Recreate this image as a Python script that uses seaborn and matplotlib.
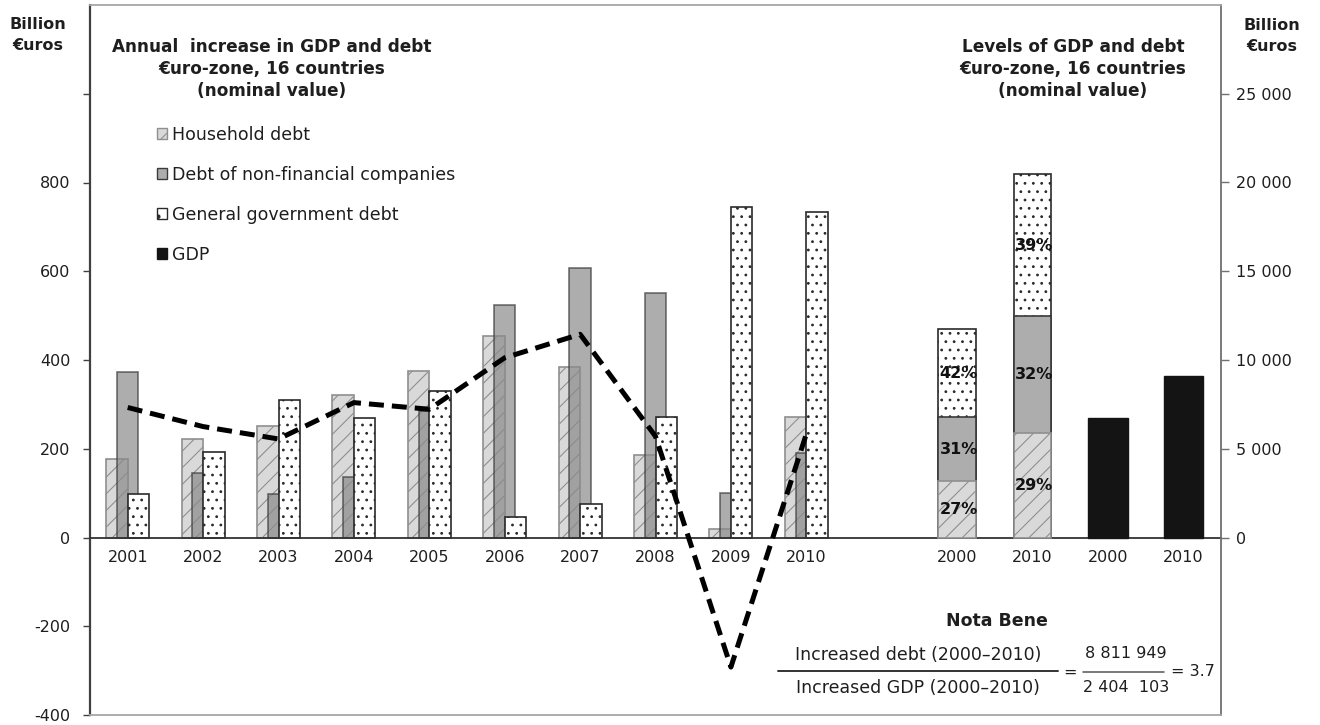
import numpy as np
import matplotlib
matplotlib.use('Agg')
import matplotlib.pyplot as plt
import seaborn as sns
from matplotlib.patches import Patch
from matplotlib.lines import Line2D

# annual increase, billion euros (left axis)
years = ['2001', '2002', '2003', '2004', '2005', '2006', '2007', '2008', '2009', '2010']
household_inc = [176, 221, 252, 321, 375, 453, 384, 187, 20, 272]
nonfin_inc = [372, 145, 97, 136, 284, 524, 608, 552, 101, 190]
gov_inc = [98, 193, 310, 270, 330, 47, 76, 272, 744, 733]
gdp_inc = [293, 250, 222, 304, 289, 405, 458, 228, -292, 233]

# levels, billion euros (right axis)
level_years = ['2000', '2010']
household_lvl = [3170, 5900]
nonfin_lvl = [3620, 6560]
gov_lvl = [4930, 8030]
gdp_lvl = [6760, 9100]

left_ticks = [-400, -200, 0, 200, 400, 600, 800, 1000]
right_ticks = [0, 5000, 10000, 15000, 20000, 25000]

sns.set_theme(style='white')
plt.rcParams['font.family'] = ['DejaVu Sans']
plt.rcParams['hatch.linewidth'] = 0.8

TXT = '#1e1e1e'
HH_FACE, HH_EDGE = '#d9d9d9', '#8f8f8f'
NF_FACE = '#8a8a8a'
GOV_EDGE = '#2a2a2a'
GDP_FACE = '#141414'

W, H = 1320, 725
fig = plt.figure(figsize=(W / 100, H / 100), dpi=100)
ax = fig.add_axes([90 / W, 10 / H, 1131 / W, 710 / H])
ax2 = ax.twinx()

inc_x = np.arange(len(years), dtype=float)
bw = 0.285
bar_kw = dict(native_scale=True, orient='x', errorbar=None, saturation=1)

# annual increases: overlapping bars per year
sns.barplot(x=inc_x - 0.1425, y=household_inc, width=bw, color=HH_FACE, hatch='//',
            edgecolor=HH_EDGE, linewidth=1.2, ax=ax, **bar_kw)
sns.barplot(x=inc_x, y=nonfin_inc, width=bw, color=NF_FACE, alpha=0.7,
            edgecolor='#3a3a3a', linewidth=1.2, ax=ax, **bar_kw)
sns.barplot(x=inc_x + 0.1425, y=gov_inc, width=bw, color='white', hatch='..',
            edgecolor=GOV_EDGE, linewidth=1.2, ax=ax, **bar_kw)

sns.lineplot(x=inc_x, y=gdp_inc, ax=ax, color='black', linewidth=3.6,
             errorbar=None, sort=False, zorder=6)
ax.lines[-1].set_dashes([3.0, 1.6])

# levels: stacked bars drawn from the top segment down
lvl_x = np.array([11.0, 12.0])
hh = np.array(household_lvl)
nf = np.array(nonfin_lvl)
gv = np.array(gov_lvl)
sns.barplot(x=lvl_x, y=hh + nf + gv, width=0.5, color='white', hatch='..',
            edgecolor=GOV_EDGE, linewidth=1.2, ax=ax2, **bar_kw)
sns.barplot(x=lvl_x, y=hh + nf, width=0.5, color='#adadad',
            edgecolor='#3a3a3a', linewidth=1.2, ax=ax2, **bar_kw)
sns.barplot(x=lvl_x, y=hh, width=0.5, color=HH_FACE, hatch='//',
            edgecolor=HH_EDGE, linewidth=1.2, ax=ax2, **bar_kw)
sns.barplot(x=np.array([13.0, 14.0]), y=gdp_lvl, width=0.52, color=GDP_FACE,
            edgecolor=GDP_FACE, linewidth=1, ax=ax2, **bar_kw)

for x, parts in zip(lvl_x, zip(household_lvl, nonfin_lvl, gov_lvl)):
    total = sum(parts)
    base = 0
    for v in parts:
        ax2.text(x + 0.02, base + v / 2, f'{100 * v / total:.0f}%', ha='center', va='center',
                 fontsize=11.5, fontweight='bold', color='#111111', zorder=10)
        base += v

# axes
ax.set_xlim(-0.5, 14.5)
ax.set_ylim(-400, 1200)
ax2.set_ylim(-10000, 30000)
ax.set_xlabel('')
ax.set_ylabel('')
ax2.set_ylabel('')

ax.set_xticks(np.arange(0.5, 14.0, 1.0))
ax.set_xticklabels([])
ax.set_xticks(list(inc_x) + [11, 12, 13, 14], minor=True)
ax.set_xticklabels(years + level_years + level_years, minor=True)
ax.tick_params(axis='x', which='major', length=5, width=1, direction='out', color='#404040')
ax.tick_params(axis='x', which='minor', length=0, pad=9, labelsize=11.5, labelcolor=TXT)

ax.set_yticks(left_ticks)
ax.set_yticklabels([str(v) if v <= 800 else '' for v in left_ticks])
ax.tick_params(axis='y', length=5, width=1, direction='out', color='#404040',
               pad=9, labelsize=11.5, labelcolor=TXT, left=True)
ax2.set_yticks(right_ticks)
ax2.set_yticklabels([f'{v:,}'.replace(',', ' ') for v in right_ticks])
ax2.tick_params(axis='y', length=6, width=1, direction='out', color='#707070',
                pad=5, labelsize=11.5, labelcolor=TXT, right=True)

ax.spines['bottom'].set_position(('data', 0))
ax.spines['bottom'].set_color('#333333')
ax.spines['bottom'].set_linewidth(1.3)
ax.spines['left'].set_color('#404040')
ax.spines['left'].set_linewidth(1.6)
ax.spines['top'].set_visible(False)
ax.spines['right'].set_visible(False)
ax2.spines['left'].set_visible(False)
ax2.spines['right'].set_color('#707070')
ax2.spines['right'].set_linewidth(1.3)
ax2.spines['top'].set_color('#a6a6a6')
ax2.spines['top'].set_linewidth(1.3)
ax2.spines['bottom'].set_color('#a6a6a6')
ax2.spines['bottom'].set_linewidth(1.3)

# legend
handles = [
    Patch(facecolor=HH_FACE, edgecolor=HH_EDGE, hatch='//', linewidth=1),
    Patch(facecolor='#adadad', edgecolor='#3a3a3a', linewidth=1),
    Patch(facecolor='white', edgecolor=GOV_EDGE, hatch='.', linewidth=1),
    Patch(facecolor=GDP_FACE, edgecolor=GDP_FACE, linewidth=1),
]
labels = ['Household debt', 'Debt of non-financial companies',
          'General government debt', 'GDP']
leg = ax2.legend(handles, labels, loc='upper left', bbox_to_anchor=(0.059, 0.83),
                 frameon=False, fontsize=12.5, handlelength=0.6, handleheight=0.55,
                 handletextpad=0.3, labelspacing=1.27, borderaxespad=0, borderpad=0)
for t in leg.get_texts():
    t.set_color(TXT)

# titles and side labels
def ftext(x, y, s, **kw):
    fig.text(x / W, 1 - y / H, s, color=TXT, **kw)

ftext(38, 35, 'Billion\n€uros', ha='center', va='center', fontsize=11.5,
      fontweight='bold', linespacing=1.45)
ftext(1272, 36, 'Billion\n€uros', ha='center', va='center', fontsize=11.5,
      fontweight='bold', linespacing=1.45)
ftext(272, 69, 'Annual  increase in GDP and debt\n€uro-zone, 16 countries\n(nominal value)',
      ha='center', va='center', fontsize=12.2, fontweight='bold', linespacing=1.3)
ftext(1073, 69, 'Levels of GDP and debt\n€uro-zone, 16 countries\n(nominal value)',
      ha='center', va='center', fontsize=12.2, fontweight='bold', linespacing=1.3)

# nota bene
ftext(997, 621, 'Nota Bene', ha='center', va='center', fontsize=12.5, fontweight='bold')
ftext(918, 655, 'Increased debt (2000–2010)', ha='center', va='center', fontsize=12.5)
ftext(918, 688, 'Increased GDP (2000–2010)', ha='center', va='center', fontsize=12.5)
ftext(1070, 672, '=', ha='center', va='center', fontsize=11.5)
ftext(1126, 653, '8 811 949', ha='center', va='center', fontsize=11.5)
ftext(1126, 688, '2 404  103', ha='center', va='center', fontsize=11.5)
ftext(1193, 672, '= 3.7', ha='center', va='center', fontsize=11.5)
fig.add_artist(Line2D([778 / W, 1058 / W], [1 - 670.5 / H] * 2, color='#333333', lw=1.4))
fig.add_artist(Line2D([1083 / W, 1164 / W], [1 - 671.5 / H] * 2, color='#555555', lw=1.1))

fig.savefig('out.png', dpi=100)
